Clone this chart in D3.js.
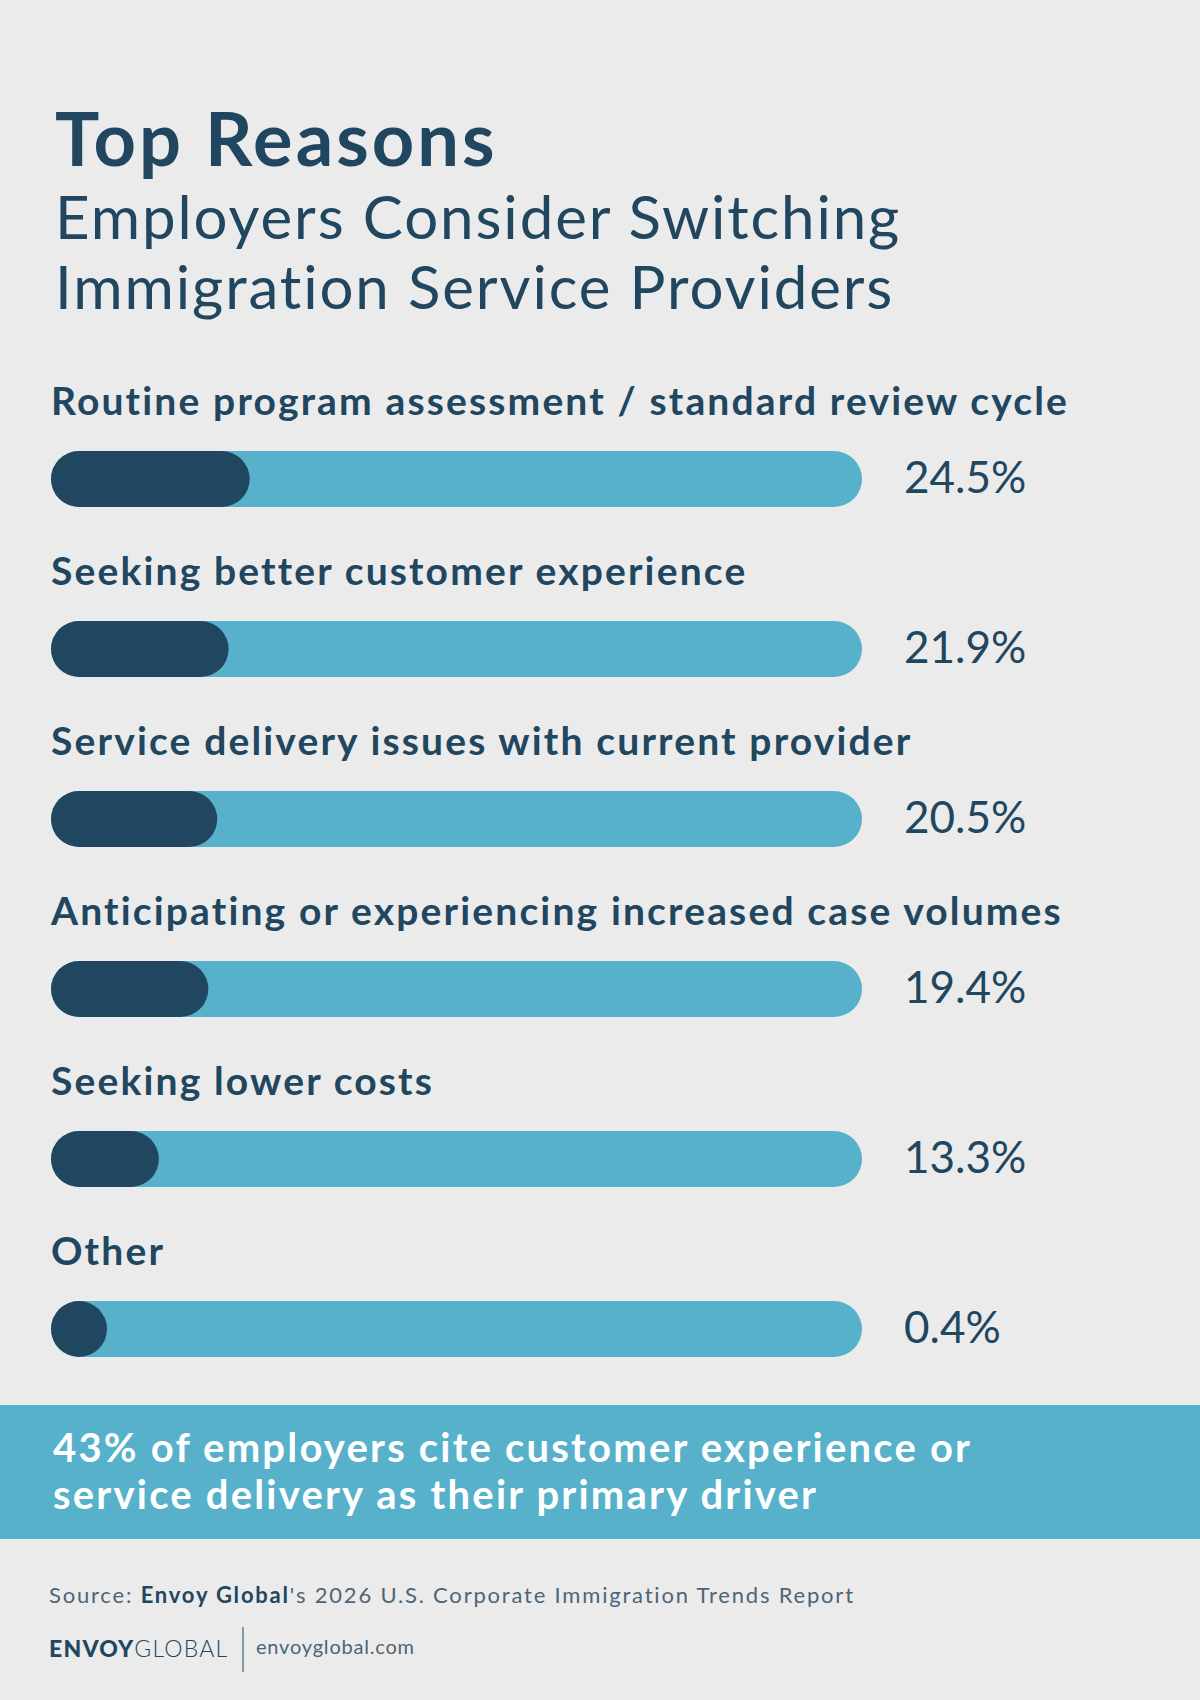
<!DOCTYPE html>
<html>
<head>
<meta charset="utf-8">
<script src="https://cdn.jsdelivr.net/npm/d3@7/dist/d3.min.js"></script>
<style>
  html, body { margin: 0; padding: 0; background: #ebebeb; }
  svg { display: block; }
  text { font-family: Lato, "Open Sans", sans-serif; }
</style>
</head>
<body>
<div id="chart"></div>
<script>
const titleText = "Top Reasons";
const subtitleLines = ["Employers Consider Switching", "Immigration Service Providers"];
const categories = [
  "Routine program assessment / standard review cycle",
  "Seeking better customer experience",
  "Service delivery issues with current provider",
  "Anticipating or experiencing increased case volumes",
  "Seeking lower costs",
  "Other"
];
const values = [24.5, 21.9, 20.5, 19.4, 13.3, 0.4];
const calloutLines = [
  "43% of employers cite customer experience or",
  "service delivery as their primary driver"
];
const sourceParts = ["Source: ", "Envoy Global", "'s 2026 U.S. Corporate Immigration Trends Report"];
const logoParts = ["ENVOY", "GLOBAL"];
const siteText = "envoyglobal.com";

const W = 1200, H = 1700;
const navy = "#21465f", blue = "#57b1cb", bg = "#ebebeb", grey = "#4d6577";

const svg = d3.select("#chart").append("svg")
  .attr("width", W).attr("height", H);

svg.append("rect").attr("width", W).attr("height", H).attr("fill", bg);

// Title
svg.append("text").attr("x", 55).attr("y", 166)
  .attr("fill", navy).attr("font-size", 74).attr("font-weight", 700)
  .attr("letter-spacing", 3.0)
  .text(titleText);
svg.selectAll("text.sub").data(subtitleLines).join("text")
  .attr("class", "sub")
  .attr("x", 55).attr("y", (d, i) => 239 + i * 70)
  .attr("fill", navy).attr("font-size", 60).attr("font-weight", 400)
  .attr("letter-spacing", 1.9)
  .text(d => d);

// Scales
const barH = 56;
const x = d3.scaleLinear().domain([0, 100]).range([51, 862]);
const y = d3.scaleBand().domain(categories).range([371, 371 + 170 * categories.length]).padding(0);

const rows = svg.selectAll("g.row").data(categories).join("g")
  .attr("class", "row")
  .attr("transform", d => `translate(0,${y(d)})`);

rows.append("text")
  .attr("x", x(0)).attr("y", 44)
  .attr("fill", navy).attr("font-size", 39).attr("font-weight", 700)
  .attr("letter-spacing", 2.15)
  .text(d => d);

rows.append("rect")
  .attr("x", x(0)).attr("y", 80)
  .attr("width", x(100) - x(0)).attr("height", barH)
  .attr("rx", barH / 2).attr("fill", blue);

rows.append("rect")
  .attr("x", x(0)).attr("y", 80)
  .attr("width", (d, i) => Math.max(barH, x(values[i]) - x(0)))
  .attr("height", barH)
  .attr("rx", barH / 2).attr("fill", navy);

rows.append("text")
  .attr("x", 904).attr("y", 80 + barH / 2 + 14)
  .attr("fill", navy).attr("font-size", 44).attr("font-weight", 400)
  .text((d, i) => values[i].toFixed(1) + "%");

// Callout banner
svg.append("rect").attr("x", 0).attr("y", 1405).attr("width", W).attr("height", 134).attr("fill", blue);
svg.selectAll("text.callout").data(calloutLines).join("text")
  .attr("class", "callout")
  .attr("x", 53).attr("y", (d, i) => 1462 + i * 47)
  .attr("fill", "#ffffff").attr("font-size", 40).attr("font-weight", 700)
  .attr("letter-spacing", 2.2)
  .text(d => d);

// Source
const src = svg.append("text").attr("x", 49).attr("y", 1603)
  .attr("font-size", 22).attr("font-weight", 400).attr("letter-spacing", 1.8);
src.append("tspan").attr("fill", grey).text(sourceParts[0]);
src.append("tspan").attr("fill", navy).attr("font-weight", 700).text(sourceParts[1]);
src.append("tspan").attr("fill", grey).text(sourceParts[2]);

// Logo
const logo = svg.append("text").attr("x", 49).attr("y", 1657)
  .attr("font-size", 23).attr("fill", navy).attr("letter-spacing", 1.2);
logo.append("tspan").attr("font-weight", 900).text(logoParts[0]);
logo.append("tspan").attr("font-weight", 300).text(logoParts[1]);

svg.append("line").attr("x1", 243).attr("x2", 243).attr("y1", 1627).attr("y2", 1672)
  .attr("stroke", navy).attr("stroke-width", 1);

svg.append("text").attr("x", 256).attr("y", 1654)
  .attr("font-size", 20).attr("font-weight", 400).attr("fill", grey)
  .attr("letter-spacing", 0.8)
  .text(siteText);
</script>
</body>
</html>
